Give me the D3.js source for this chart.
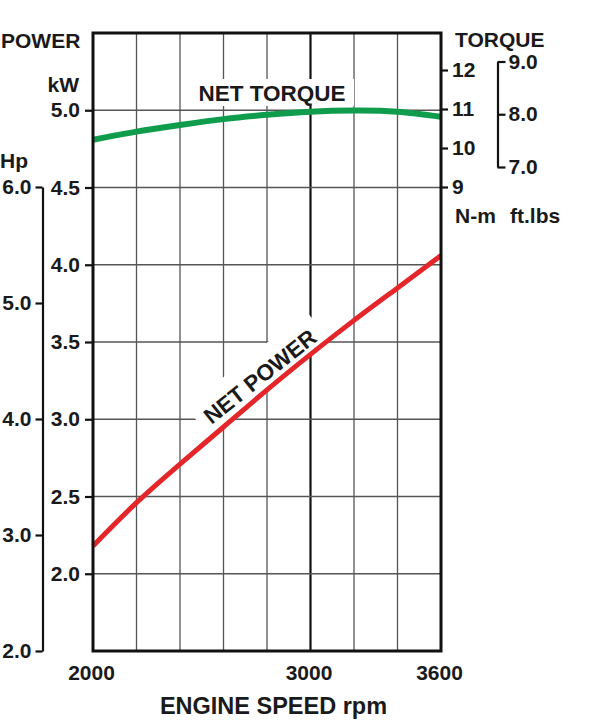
<!DOCTYPE html>
<html>
<head>
<meta charset="utf-8">
<script src="https://cdn.jsdelivr.net/npm/d3@7"></script>
<style>
  body { margin: 0; background: #fff; }
  svg { display: block; font-family: "Liberation Sans", Arial, Helvetica, sans-serif; font-weight: bold; }
  text { fill: #1a1a1a; }
</style>
</head>
<body>
<svg id="chart" width="600" height="720"></svg>
<script>
// ---- data ----
const rpm = [2000, 2200, 2400, 2600, 2800, 3000, 3200, 3400, 3600];
const netPowerKW = [2.18, 2.46, 2.71, 2.95, 3.19, 3.42, 3.64, 3.85, 4.06];
const netTorqueNm = [10.21, 10.42, 10.59, 10.74, 10.85, 10.93, 10.96, 10.93, 10.80];
const gridRpm = [2200, 2400, 2600, 2800, 3000, 3200, 3400];
const rpmTickLabels = [2000, 3000, 3600];
const kwTicks = [2.0, 2.5, 3.0, 3.5, 4.0, 4.5, 5.0];
const hpTicks = [2.0, 3.0, 4.0, 5.0, 6.0];
const nmTicks = [9, 10, 11, 12];
const ftlbTicks = [7.0, 8.0, 9.0];

// ---- layout ----
const L = 93, R = 441, T = 33, B = 651;
const svg = d3.select("#chart");

const x = d3.scaleLinear([2000, 3600], [L, R]);
const yKW = d3.scaleLinear([1.5, 5.5], [B, T]);
const yHp = d3.scaleLinear([2, 6], [B, 187]);
const yNm = d3.scaleLinear([9, 12], [187, 70]);
const yFt = d3.scaleLinear([7, 9], [167, 61.5]);

// gridlines
const grid = svg.append("g");
grid.selectAll("line.v").data(gridRpm).join("line")
  .attr("x1", d => x(d)).attr("x2", d => x(d))
  .attr("y1", T).attr("y2", B)
  .attr("stroke", d => d === 3000 ? "#111" : "#555")
  .attr("stroke-width", d => d === 3000 ? 2.2 : 1.3);
grid.selectAll("line.h").data(kwTicks).join("line")
  .attr("x1", L).attr("x2", R)
  .attr("y1", d => yKW(d)).attr("y2", d => yKW(d))
  .attr("stroke", "#555").attr("stroke-width", 1.3);

// white box behind NET TORQUE
svg.append("rect").attr("x", 190).attr("y", 79).attr("width", 164).attr("height", 27).attr("fill", "#fff");

// NET POWER label backing (rotated)
const anchorRpm = 2810;
const ax = x(anchorRpm);
const ay = yKW(d3.interpolateNumber(netPowerKW[4], netPowerKW[5])((anchorRpm - 2800) / 200));
const angle = -38.5;
const pl = svg.append("g").attr("transform", `translate(${ax},${ay}) rotate(${angle})`);
pl.append("rect").attr("x", -77).attr("y", -37).attr("width", 154).attr("height", 37).attr("fill", "#fff");

// curves
const lineT = d3.line().x((d, i) => x(rpm[i])).y(d => yNm(d)).curve(d3.curveNatural);
const lineP = d3.line().x((d, i) => x(rpm[i])).y(d => yKW(d)).curve(d3.curveNatural);
svg.append("path").attr("d", lineT(netTorqueNm)).attr("fill", "none")
  .attr("stroke", "#0f9d4d").attr("stroke-width", 6);
svg.append("path").attr("d", lineP(netPowerKW)).attr("fill", "none")
  .attr("stroke", "#e4262b").attr("stroke-width", 5);

pl.append("text").attr("x", 0).attr("y", -7).attr("text-anchor", "middle")
  .attr("font-size", 22.5).text("NET POWER");

svg.append("text").attr("x", 272).attr("y", 101).attr("text-anchor", "middle")
  .attr("font-size", 22.5).text("NET TORQUE");

// border
svg.append("rect").attr("x", L).attr("y", T).attr("width", R - L).attr("height", B - T)
  .attr("fill", "none").attr("stroke", "#111").attr("stroke-width", 3);

function styleAxis(g, fs) {
  g.selectAll("path.domain").attr("stroke", "#111").attr("stroke-width", 2.2);
  g.selectAll(".tick line").attr("stroke", "#111").attr("stroke-width", 2.2);
  g.selectAll(".tick text").attr("fill", "#1a1a1a").attr("font-size", fs)
    .attr("font-family", "Liberation Sans, Arial, sans-serif").attr("font-weight", "bold");
  g.attr("font-size", null).attr("font-family", null);
}

// kW axis
const gKW = svg.append("g").attr("transform", `translate(${L},0)`)
  .call(d3.axisLeft(yKW).tickValues(kwTicks).tickFormat(d3.format(".1f")).tickSize(8).tickPadding(5));
gKW.select("path.domain").remove();
styleAxis(gKW, 21);

// Hp axis
const gHp = svg.append("g").attr("transform", `translate(42.5,0)`)
  .call(d3.axisLeft(yHp).tickValues(hpTicks).tickFormat(d3.format(".1f")).tickSize(7).tickSizeOuter(0).tickPadding(4));
styleAxis(gHp, 21);

// N-m axis
const gNm = svg.append("g").attr("transform", `translate(${R},0)`)
  .call(d3.axisRight(yNm).tickValues(nmTicks).tickFormat(d3.format("d")).tickSize(7).tickPadding(4));
gNm.select("path.domain").remove();
styleAxis(gNm, 21);

// ft.lbs axis
const gFt = svg.append("g").attr("transform", `translate(497.5,0)`)
  .call(d3.axisRight(yFt).tickValues(ftlbTicks).tickFormat(d3.format(".1f")).tickSize(8).tickSizeOuter(0).tickPadding(3));
styleAxis(gFt, 21);

// rpm axis labels
const gX = svg.append("g").attr("transform", `translate(0,${B})`)
  .call(d3.axisBottom(x).tickValues(rpmTickLabels).tickFormat(d3.format("d")).tickSize(0).tickPadding(14));
gX.select("path.domain").remove();
gX.selectAll(".tick text").attr("dx", -2);
styleAxis(gX, 21);

// titles
const titles = [
  { t: "POWER", x: 1, y: 48, a: "start", s: 21 },
  { t: "kW", x: 79, y: 92, a: "end", s: 21 },
  { t: "Hp", x: 0, y: 168, a: "start", s: 21 },
  { t: "TORQUE", x: 455, y: 47, a: "start", s: 21 },
  { t: "N-m", x: 455, y: 223, a: "start", s: 21 },
  { t: "ft.lbs", x: 510, y: 223, a: "start", s: 21 },
  { t: "ENGINE SPEED rpm", x: 273.5, y: 714, a: "middle", s: 23.5 }
];
svg.append("g").selectAll("text").data(titles).join("text")
  .attr("x", d => d.x).attr("y", d => d.y).attr("text-anchor", d => d.a)
  .attr("font-size", d => d.s).text(d => d.t);
</script>
</body>
</html>
